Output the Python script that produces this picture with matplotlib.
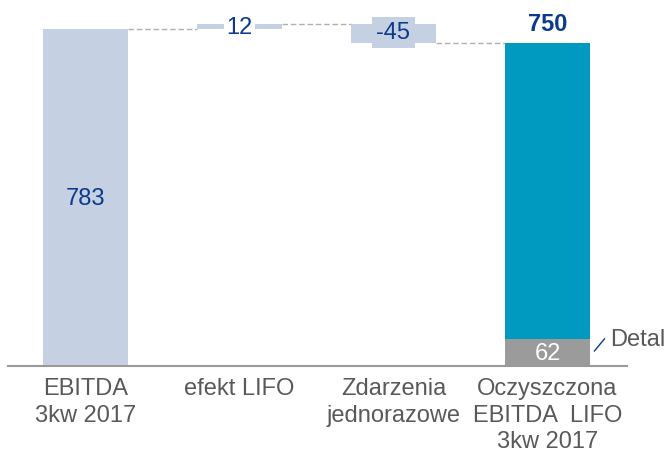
import matplotlib.pyplot as plt
import numpy as np

plt.rcParams['font.family'] = ['Liberation Sans', 'DejaVu Sans']

categories = ['EBITDA\n3kw 2017', 'efekt LIFO', 'Zdarzenia\njednorazowe',
              'Oczyszczona\nEBITDA  LIFO\n3kw 2017']
steps = [783, 12, -45]
total = 750
detal = 62
detal_label = 'Detal'

light = '#c5d0e2'
teal = '#0099bf'
grey = '#9b9b9b'
navy = '#0b3a8c'
txt = '#595959'
fs = 17

fig = plt.figure(figsize=(6.68, 4.56), dpi=100)
ax = fig.add_axes([0, 89/456, 1, 367/456])

x = np.arange(len(categories))
w = 0.55

# waterfall steps
cum = np.cumsum(steps)
bottoms = np.concatenate([[0], cum[:-1]])
heights = np.array(steps)
ax.bar(x[:3], heights, bottom=bottoms, width=w, color=light, zorder=2)

# final bar: Detal part + rest
ax.bar(x[3], detal, width=w, color=grey, zorder=2)
ax.bar(x[3], total - detal, bottom=detal, width=w, color=teal, zorder=2)

# connectors
levels = list(cum)
for i in range(3):
    ax.plot([x[i] + w/2, x[i+1] - w/2], [levels[i], levels[i]],
            color='#b0b0b0', lw=1, ls=(0, (4, 2)), zorder=1)

# labels
ax.text(x[0], steps[0]/2, str(steps[0]), ha='center', va='center',
        fontsize=fs, color=navy)
ax.text(x[1], bottoms[1] + steps[1]/2, str(steps[1]), ha='center', va='center',
        fontsize=fs, color=navy,
        bbox=dict(boxstyle='square,pad=0.12', fc='white', ec='none'), zorder=3)
ax.text(x[2], bottoms[2] + steps[2]/2 + 3, str(steps[2]), ha='center', va='center',
        fontsize=fs, color=navy,
        bbox=dict(boxstyle='square,pad=0.2', fc=light, ec='none'), zorder=3)
ax.text(x[3], total + 20, str(total), ha='center', va='bottom',
        fontsize=fs, color=navy, fontweight='bold')
ax.text(x[3], detal/2, str(detal), ha='center', va='center',
        fontsize=fs, color='white', zorder=3)

# Detal annotation
ax.plot([x[3] + w/2 + 0.03, x[3] + w/2 + 0.095], [35, 63], color=navy, lw=1)
ax.text(x[3] + w/2 + 0.13, 63, detal_label, ha='left', va='center',
        fontsize=fs, color=txt)

ax.set_xlim(-0.555, -0.555 + 668 / 154)
ax.set_ylim(0, 853)
for s in ['top', 'right', 'left', 'bottom']:
    ax.spines[s].set_visible(False)
ax.plot([-0.503, 3.516], [0, 0], color='#999999', lw=1.5, clip_on=False, zorder=4)
ax.set_yticks([])
ax.set_xticks(x)
ax.set_xticklabels(categories, fontsize=fs, color=txt, linespacing=1.26)
ax.tick_params(axis='x', length=0, pad=8)

fig.savefig('out.png', dpi=100)
